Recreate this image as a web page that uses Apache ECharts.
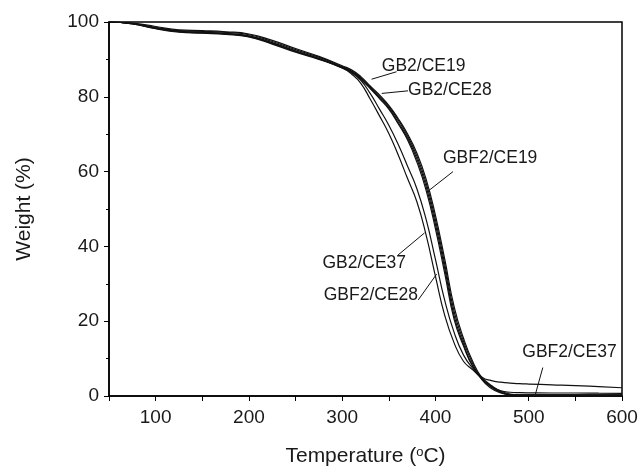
<!DOCTYPE html>
<html>
<head>
<meta charset="utf-8">
<script src="https://cdn.jsdelivr.net/npm/echarts@6.0.0/dist/echarts.min.js"></script>
<style>
  html, body { margin: 0; padding: 0; background: #fff; }
  #chart { width: 640px; height: 469px; }
</style>
</head>
<body>
<div id="chart"></div>
<script>
// temperature steps (°C) shared by every curve
const temps = [50, 75, 100, 125, 150, 175, 200, 225, 250, 275, 300, 310, 320, 330, 340, 350, 360, 370, 380, 390, 400, 410, 420, 430, 440, 450, 460, 470, 480, 490, 500, 525, 550, 575, 600];

// weight (%)
const gb2ce19 = [100, 99.7, 98.8, 97.9, 97.7, 97.4, 96.8, 95.1, 92.9, 90.8, 88.3, 87.2, 85.4, 82.9, 80.5, 77.7, 74.2, 70.1, 65.0, 58.0, 48.3, 36.5, 23.9, 15.5, 9.2, 4.8, 2.4, 1.0, 0.4, 0.3, 0.3, 0.3, 0.3, 0.3, 0.3];
const gb2ce28 = [100, 99.6, 98.6, 97.7, 97.5, 97.2, 96.6, 94.8, 92.6, 90.6, 88.1, 86.9, 85.1, 82.6, 80.2, 77.4, 73.8, 69.6, 64.2, 57.0, 47.1, 35.2, 22.6, 14.7, 8.6, 4.3, 2.0, 0.8, 0.3, 0.2, 0.2, 0.2, 0.15, 0.1, 0.1];
const gbf2ce19 = [100, 99.6, 98.4, 97.5, 97.2, 96.9, 96.3, 94.5, 92.3, 90.3, 87.9, 86.7, 84.9, 82.4, 79.8, 77.0, 73.2, 69.0, 63.4, 56.0, 45.9, 34.0, 21.4, 13.9, 8.0, 5.0, 4.1, 3.7, 3.45, 3.3, 3.2, 3.0, 2.8, 2.5, 2.2];
const gbf2ce37 = [100, 99.5, 98.3, 97.4, 97.1, 96.8, 96.1, 94.3, 92.1, 90.2, 87.7, 86.5, 84.6, 82.2, 79.5, 76.7, 72.8, 68.5, 62.6, 55.0, 44.7, 32.7, 20.5, 13.4, 7.8, 4.4, 2.6, 1.4, 1.0, 0.9, 0.85, 0.8, 0.8, 0.75, 0.7];
const gb2ce37 = [100, 99.5, 98.2, 97.3, 97.0, 96.7, 96.0, 94.1, 91.9, 90.0, 87.7, 86.1, 83.6, 79.4, 74.9, 70.2, 64.5, 58.2, 52.0, 43.0, 32.0, 21.5, 14.2, 9.3, 7.0, 4.6, 2.4, 1.0, 0.3, 0.2, 0.2, 0.15, 0.15, 0.15, 0.15];
const gbf2ce28 = [100, 99.6, 98.4, 97.5, 97.2, 96.9, 96.2, 94.3, 92.1, 90.1, 87.9, 86.5, 84.4, 80.9, 76.7, 72.4, 67.3, 61.5, 55.5, 47.2, 36.5, 25.5, 17.0, 11.0, 7.4, 4.8, 2.8, 1.3, 0.5, 0.3, 0.3, 0.3, 0.3, 0.3, 0.3];

const seriesNames = ['GB2/CE19', 'GB2/CE28', 'GBF2/CE19', 'GBF2/CE37', 'GB2/CE37', 'GBF2/CE28'];
const seriesValues = [gb2ce19, gb2ce28, gbf2ce19, gbf2ce37, gb2ce37, gbf2ce28];

// label callouts in data units: text anchor, then pointer start and end
const labelNames = ['GB2/CE19', 'GB2/CE28', 'GBF2/CE19', 'GB2/CE37', 'GBF2/CE28', 'GBF2/CE37'];
const labelAt = [[342.5, 88.2], [370.6, 81.8], [408.1, 63.6], [278.8, 35.6], [280.2, 27.0], [493.1, 11.6]];
const pointerFrom = [[358.3, 86.7], [370.6, 81.6], [418.8, 60.0], [359.9, 37.7], [381.6, 25.7], [515.1, 7.6]];
const pointerTo = [[331.5, 84.7], [342.4, 80.9], [392.7, 54.9], [388.3, 43.6], [401.3, 32.6], [507.2, 0.5]];

const font = '"Liberation Sans", Arial, sans-serif';
const chart = echarts.init(document.getElementById('chart'));

const curves = seriesNames.map((name, i) => ({
  name: name,
  type: 'line',
  data: temps.map((t, j) => [t, seriesValues[i][j]]),
  showSymbol: false,
  smooth: 0.5,
  lineStyle: { color: '#111', width: 1.2 },
  z: 3,
}));

const callouts = {
  type: 'custom',
  data: labelNames.map((n, i) => [labelAt[i][0], labelAt[i][1], pointerFrom[i][0], pointerFrom[i][1], pointerTo[i][0], pointerTo[i][1], i]),
  encode: { x: 0, y: 1 },
  renderItem: function (params, api) {
    const t = api.coord([api.value(0), api.value(1)]);
    const a = api.coord([api.value(2), api.value(3)]);
    const b = api.coord([api.value(4), api.value(5)]);
    return {
      type: 'group',
      children: [
        { type: 'line', shape: { x1: a[0], y1: a[1], x2: b[0], y2: b[1] }, style: { stroke: '#111', lineWidth: 1 } },
        {
          type: 'text',
          x: t[0],
          y: t[1],
          style: { text: labelNames[api.value(6)], fill: '#1a1a1a', font: '17.5px ' + font, align: 'left', verticalAlign: 'middle' },
        },
      ],
    };
  },
  z: 5,
};

const option = {
  animation: false,
  backgroundColor: '#fff',
  grid: { left: 109, right: 18, top: 22, bottom: 73, outerBoundsMode: 'none', show: true, borderColor: '#000', borderWidth: 1.5 },
  xAxis: {
    type: 'value',
    min: 50,
    max: 600,
    interval: 50,
    name: 'Temperature ({sup|o}C)',
    nameLocation: 'middle',
    nameGap: 50,
    nameTextStyle: {
      fontFamily: font,
      fontSize: 21,
      color: '#1a1a1a',
      rich: { sup: { fontFamily: font, fontSize: 13, verticalAlign: 'top', color: '#1a1a1a' } },
    },
    axisLine: { lineStyle: { color: '#000', width: 1.5 } },
    axisTick: { length: 5, lineStyle: { color: '#000' } },
    axisLabel: {
      fontFamily: font,
      fontSize: 19,
      color: '#1a1a1a',
      margin: 12,
      formatter: (v) => (v % 100 === 0 ? String(v) : ''),
    },
    splitLine: { show: false },
  },
  yAxis: {
    type: 'value',
    min: 0,
    max: 100,
    interval: 20,
    name: 'Weight (%)',
    nameLocation: 'middle',
    nameGap: 74,
    nameTextStyle: { fontFamily: font, fontSize: 21, color: '#1a1a1a' },
    axisLine: { show: true, lineStyle: { color: '#000', width: 1.5 } },
    axisTick: { length: 5, lineStyle: { color: '#000' } },
    minorTick: { show: true, splitNumber: 2, length: 3, lineStyle: { color: '#000' } },
    axisLabel: { fontFamily: font, fontSize: 19, color: '#1a1a1a', margin: 10 },
    splitLine: { show: false },
  },
  series: curves.concat([callouts]),
};

chart.setOption(option);
</script>
</body>
</html>
